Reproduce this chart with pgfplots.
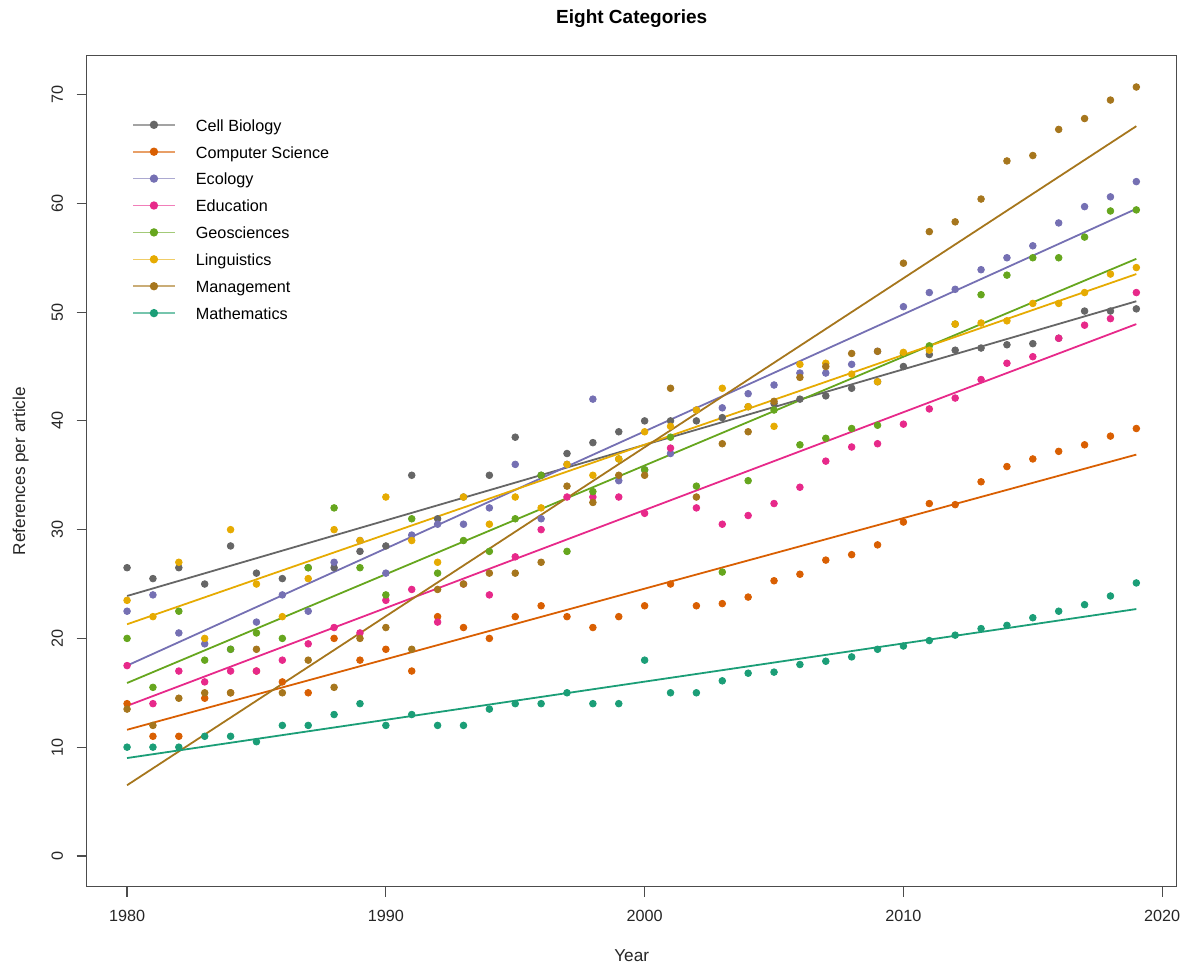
\documentclass[border=0pt]{standalone}
\usepackage{pgfplots}
\pgfplotsset{compat=1.18}
\usepackage{pgfplotstable}
\usepackage{fontspec}
\setmainfont{Liberation Sans}
\definecolor{cCB}{HTML}{666666}
\definecolor{cCS}{HTML}{D95F02}
\definecolor{cEco}{HTML}{7570B3}
\definecolor{cEdu}{HTML}{E7298A}
\definecolor{cGeo}{HTML}{66A61E}
\definecolor{cLing}{HTML}{E6AB02}
\definecolor{cMan}{HTML}{A6761D}
\definecolor{cMath}{HTML}{1B9E77}

\pgfplotstableread{
year cb cs eco edu geo ling man math
1980 26.5 14 22.5 17.5 20 23.5 13.5 10
1981 25.5 11 24 14 15.5 22 12 10
1982 26.5 11 20.5 17 22.5 27 14.5 10
1983 25 14.5 19.5 16 18 20 15 11
1984 28.5 15 19 17 19 30 15 11
1985 26 17 21.5 17 20.5 25 19 10.5
1986 25.5 16 24 18 20 22 15 12
1987 26.5 15 22.5 19.5 26.5 25.5 18 12
1988 26.5 20 27 21 32 30 15.5 13
1989 28 18 29 20.5 26.5 29 20 14
1990 28.5 19 26 23.5 24 33 21 12
1991 35 17 29.5 24.5 31 29 19 13
1992 31 22 30.5 21.5 26 27 24.5 12
1993 33 21 30.5 25 29 33 25 12
1994 35 20 32 24 28 30.5 26 13.5
1995 38.5 22 36 27.5 31 33 26 14
1996 35 23 31 30 35 32 27 14
1997 37 22 36 33 28 36 34 15
1998 38 21 42 33 33.5 35 32.5 14
1999 39 22 34.5 33 36.5 36.5 35 14
2000 40 23 35.5 31.5 35.5 39 35 18
2001 40 25 37 37.5 38.5 39.5 43 15
2002 40 23 41 32 34 41 33 15
2003 40.3 23.2 41.2 30.5 26.1 43 37.9 16.1
2004 41.3 23.8 42.5 31.3 34.5 41.3 39 16.8
2005 41.6 25.3 43.3 32.4 41 39.5 41.8 16.9
2006 42 25.9 44.4 33.9 37.8 45.2 44 17.6
2007 42.3 27.2 44.4 36.3 38.4 45.3 45 17.9
2008 43 27.7 45.2 37.6 39.3 44.3 46.2 18.3
2009 43.6 28.6 46.4 37.9 39.6 43.6 46.4 19
2010 45 30.7 50.5 39.7 46.2 46.3 54.5 19.3
2011 46.1 32.4 51.8 41.1 46.9 46.5 57.4 19.8
2012 46.5 32.3 52.1 42.1 48.9 48.9 58.3 20.3
2013 46.7 34.4 53.9 43.8 51.6 49 60.4 20.9
2014 47 35.8 55 45.3 53.4 49.2 63.9 21.2
2015 47.1 36.5 56.1 45.9 55 50.8 64.4 21.9
2016 47.6 37.2 58.2 47.6 55 50.8 66.8 22.5
2017 50.1 37.8 59.7 48.8 56.9 51.8 67.8 23.1
2018 50.1 38.6 60.6 49.4 59.3 53.5 69.5 23.9
2019 50.3 39.3 62 51.8 59.4 54.1 70.7 25.1
}\data

\begin{document}
\begin{tikzpicture}
\begin{axis}[
  name=ax,
  scale only axis, width=545bp, height=415.5bp,
  xmin=1978.44, xmax=2020.56, ymin=-2.83, ymax=73.58,
  axis line style={black!70, line width=0.6bp},
  xtick={1980,1990,2000,2010,2020}, ytick={0,10,...,70},
  tick align=outside, major tick length=5bp,
  tick style={black!70, line width=0.6bp},
  xtick pos=bottom, ytick pos=left,
  /pgf/number format/assume math mode=true,
  /pgf/number format/1000 sep={},
  tick label style={font=\fontsize{8.1bp}{10bp}\selectfont, text=black!85},
  xticklabel style={anchor=north, inner sep=0pt, yshift=-6.65bp},
  yticklabel style={xshift=-6.7bp, rotate=90, anchor=south, inner sep=0pt},
  title={\bfseries Eight Categories},
  every axis title/.style={at={(0.5,1)}, anchor=base, yshift=15.85bp, inner sep=0pt, font=\fontsize{9.5bp}{11bp}\selectfont},
  xlabel={Year},
  every axis x label/.style={at={(0.5,0)}, anchor=base, yshift=-37.15bp, inner sep=0pt, font=\fontsize{8.6bp}{10bp}\selectfont, text=black!85},
  ylabel={References per article},
  every axis y label/.style={at={(0,0.5)}, xshift=-30.85bp, rotate=90, anchor=base, inner sep=0pt, font=\fontsize{8.6bp}{10bp}\selectfont, text=black!85},
  legend image code/.code={\draw[mark repeat=2,mark phase=2,#1] plot coordinates {(0bp,0bp) (10.425bp,0bp) (20.85bp,0bp)};},
  legend style={draw=none, fill=none, inner sep=0pt, outer sep=0pt, anchor=north west,
    at={(0.04183,0.9330)}, row sep=0pt, column sep=10.15bp,
    font=\fontsize{8.1bp}{10bp}\selectfont,
    nodes={inner sep=0pt, text height=9.9bp, text depth=3.55bp}},
  legend cell align=left,
]
\addlegendimage{cCB!60, line width=0.8bp, mark=*, mark size=1.67bp, mark options={draw=cCB, fill=cCB}}
\addlegendentry{Cell Biology}
\addlegendimage{cCS!60, line width=0.8bp, mark=*, mark size=1.67bp, mark options={draw=cCS, fill=cCS}}
\addlegendentry{Computer Science}
\addlegendimage{cEco!60, line width=0.8bp, mark=*, mark size=1.67bp, mark options={draw=cEco, fill=cEco}}
\addlegendentry{Ecology}
\addlegendimage{cEdu!60, line width=0.8bp, mark=*, mark size=1.67bp, mark options={draw=cEdu, fill=cEdu}}
\addlegendentry{Education}
\addlegendimage{cGeo!60, line width=0.8bp, mark=*, mark size=1.67bp, mark options={draw=cGeo, fill=cGeo}}
\addlegendentry{Geosciences}
\addlegendimage{cLing!60, line width=0.8bp, mark=*, mark size=1.67bp, mark options={draw=cLing, fill=cLing}}
\addlegendentry{Linguistics}
\addlegendimage{cMan!60, line width=0.8bp, mark=*, mark size=1.67bp, mark options={draw=cMan, fill=cMan}}
\addlegendentry{Management}
\addlegendimage{cMath!60, line width=0.8bp, mark=*, mark size=1.67bp, mark options={draw=cMath, fill=cMath}}
\addlegendentry{Mathematics}

\addplot[only marks, mark=*, mark size=1.67bp, cCB, forget plot] table[x=year, y=cb] {\data};
\addplot[cCB, line width=0.9bp, forget plot] coordinates {(1980,23.9) (2019,51.0)};
\addplot[only marks, mark=*, mark size=1.67bp, cCS, forget plot] table[x=year, y=cs] {\data};
\addplot[cCS, line width=0.9bp, forget plot] coordinates {(1980,11.6) (2019,36.9)};
\addplot[only marks, mark=*, mark size=1.67bp, cEco, forget plot] table[x=year, y=eco] {\data};
\addplot[cEco, line width=0.9bp, forget plot] coordinates {(1980,17.5) (2019,59.5)};
\addplot[only marks, mark=*, mark size=1.67bp, cEdu, forget plot] table[x=year, y=edu] {\data};
\addplot[cEdu, line width=0.9bp, forget plot] coordinates {(1980,13.8) (2019,48.9)};
\addplot[only marks, mark=*, mark size=1.67bp, cGeo, forget plot] table[x=year, y=geo] {\data};
\addplot[cGeo, line width=0.9bp, forget plot] coordinates {(1980,15.9) (2019,54.9)};
\addplot[only marks, mark=*, mark size=1.67bp, cLing, forget plot] table[x=year, y=ling] {\data};
\addplot[cLing, line width=0.9bp, forget plot] coordinates {(1980,21.3) (2019,53.5)};
\addplot[only marks, mark=*, mark size=1.67bp, cMan, forget plot] table[x=year, y=man] {\data};
\addplot[cMan, line width=0.9bp, forget plot] coordinates {(1980,6.5) (2019,67.1)};
\addplot[only marks, mark=*, mark size=1.67bp, cMath, forget plot] table[x=year, y=math] {\data};
\addplot[cMath, line width=0.9bp, forget plot] coordinates {(1980,9.0) (2019,22.7)};
\end{axis}
\path ([xshift=-43.35bp,yshift=-39.65bp]ax.south west) rectangle ([xshift=9.65bp,yshift=27.85bp]ax.north east);
\end{tikzpicture}
\end{document}
